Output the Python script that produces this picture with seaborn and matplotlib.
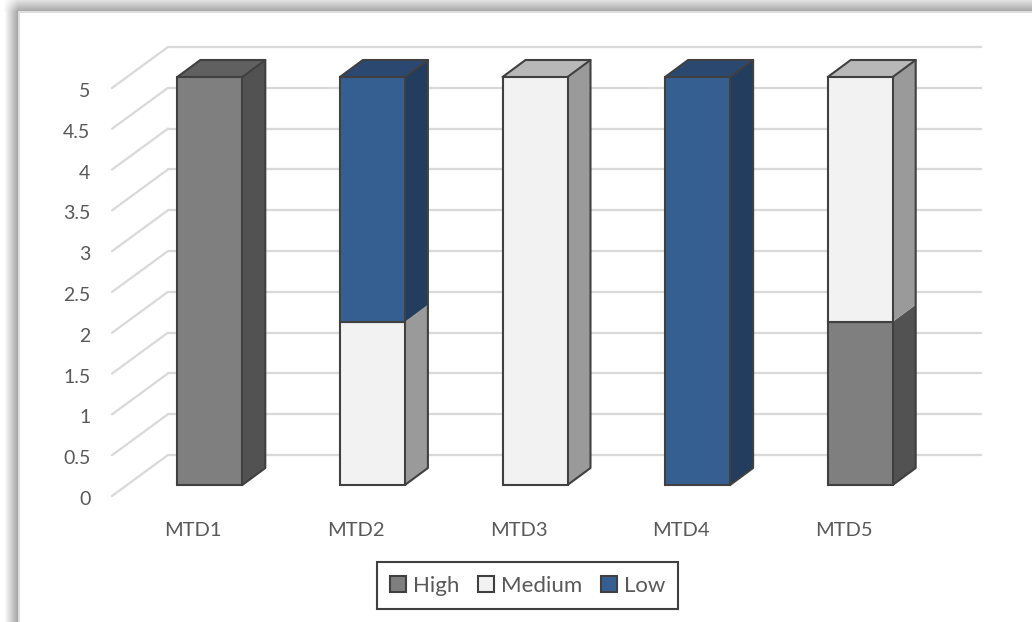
import numpy as np
import pandas as pd
import matplotlib
matplotlib.use("Agg")
import matplotlib.pyplot as plt
from matplotlib.transforms import ScaledTranslation
import seaborn as sns

# -------- DATA --------
methods = ["MTD1", "MTD2", "MTD3", "MTD4", "MTD5"]
high = [5, 0, 0, 0, 2]
medium = [0, 2, 5, 0, 3]
low = [0, 3, 0, 5, 0]
levels = ["High", "Medium", "Low"]
ytick_values = [0, 0.5, 1, 1.5, 2, 2.5, 3, 3.5, 4, 4.5, 5]
ytick_labels = ["0", "0.5", "1", "1.5", "2", "2.5", "3", "3.5", "4", "4.5", "5"]

# -------- STYLE --------
front = {"High": "#7f7f7f", "Medium": "#f2f2f2", "Low": "#365f91"}
side = {"High": "#525252", "Medium": "#9a9a9a", "Low": "#223d5e"}
top = {"High": "#606060", "Medium": "#b8b8b8", "Low": "#2b4970"}
EDGE = "#404040"
GRID = "#d9d9d9"
TEXT = "#595959"

W, H = 1032, 622
sns.set_theme(style="white")
plt.rcParams["font.family"] = ["Lato", "DejaVu Sans"]

fig = plt.figure(figsize=(W / 100, H / 100), dpi=100)

# -------- PANEL SHADOW --------
bg = fig.add_axes([0, 0, 1, 1], zorder=0)
xx, yy = np.meshgrid(np.arange(W), np.arange(H))
left_band = np.where(xx < 4, 255, 255 - 95 * (xx - 4) / 14)
left_band = np.where(yy < 10, 255 - (255 - left_band) * (yy / 10), left_band)
top_band = 225 - 60 * yy / 11
top_band = np.where(xx < 18, 255 - (255 - top_band) * np.clip((xx - 3) / 15, 0, 1), top_band)
shade = np.where(yy < 11, top_band, left_band)
shade = np.where((xx >= 18) & (yy >= 11), 255, shade)
shade = np.where(((xx >= 18) & (xx < 20) & (yy >= 11)) | ((yy >= 11) & (yy < 13) & (xx >= 18)), 222, shade)
bg.imshow(shade, cmap="gray", vmin=0, vmax=255, aspect="auto", interpolation="nearest")
bg.axis("off")

# -------- AXES (front plane of the 3D box) --------
left, right, floor, ceil = 112, 925, 496, 88
ax = fig.add_axes([left / W, 1 - floor / H, (right - left) / W, (floor - ceil) / H], zorder=1)
ax.patch.set_alpha(0)
px_x = (right - left) / 5
px_y = (floor - ceil) / 5

wall_dx, wall_dy = 56 / px_x, 41 / px_y
shift_x, shift_y = 16.5 / px_x, 11 / px_y
depth_x, depth_y = 23 / px_x, 17 / px_y
bar_width = 65 / px_x

# gridlines on the back wall and floor/side wall
for v in ytick_values:
    ax.plot([-0.5, -0.5 + wall_dx], [v, v + wall_dy], color=GRID, lw=1.6, clip_on=False, zorder=1,
            solid_capstyle="round")
    ax.plot([-0.5 + wall_dx, 4.5 + wall_dx], [v + wall_dy, v + wall_dy], color=GRID, lw=1.6,
            clip_on=False, zorder=1, solid_capstyle="round")

# -------- BARS --------
df = pd.DataFrame({"method": methods, "High": high, "Medium": medium, "Low": low})
base = np.zeros(len(methods))
columns = [[] for _ in methods]
for level in levels:
    vals = df[level].to_numpy(dtype=float)
    keep = vals > 0
    sub = df[keep]
    n_before = len(ax.patches)
    sns.barplot(data=sub, x="method", y=level, order=methods, color=front[level], saturation=1,
                width=bar_width, bottom=base[keep], edgecolor=EDGE, linewidth=1.5, ax=ax,
                label=level, zorder=4, err_kws={"linewidth": 0})
    for p in ax.patches[n_before:]:
        p.set_x(p.get_x() + shift_x)
        p.set_y(p.get_y() + shift_y)
        p.set_clip_on(False)
    for i in np.flatnonzero(keep):
        columns[i].append((level, base[i], base[i] + vals[i]))
    base = base + vals

# side and top faces
for i, segs in enumerate(columns):
    x1 = i - bar_width / 2 + shift_x
    x2 = i + bar_width / 2 + shift_x
    for level, y0, y1 in segs:
        ax.fill([x2, x2 + depth_x, x2 + depth_x, x2],
                [y0 + shift_y, y0 + shift_y + depth_y, y1 + shift_y + depth_y, y1 + shift_y],
                color=side[level], lw=0, zorder=3, clip_on=False)
    level, _, y_top = segs[-1]
    yt = y_top + shift_y
    ax.fill([x1, x1 + depth_x, x2 + depth_x, x2], [yt, yt + depth_y, yt + depth_y, yt],
            color=top[level], lw=0, zorder=3, clip_on=False)
    ax.plot([x2, x2 + depth_x, x2 + depth_x, x1 + depth_x, x1],
            [shift_y, shift_y + depth_y, yt + depth_y, yt + depth_y, yt],
            color=EDGE, lw=1.5, zorder=5, clip_on=False, solid_joinstyle="round")
    ax.plot([x2 + depth_x, x2], [yt + depth_y, yt], color=EDGE, lw=1.5, zorder=5, clip_on=False)

# -------- AXIS TEXT --------
ax.set_xlim(-0.5, 4.5)
ax.set_ylim(0, 5)
ax.set_yticks(ytick_values)
ax.set_yticklabels(ytick_labels)
ax.set_xlabel("")
ax.set_ylabel("")
ax.tick_params(axis="y", length=0, pad=15.5, labelsize=14, labelcolor=TEXT)
ax.tick_params(axis="x", length=0, pad=18.5, labelsize=14.5, labelcolor=TEXT)
sns.despine(ax=ax, left=True, bottom=True)

# Lato sits a little high against the reference labels
nudge = ScaledTranslation(0, -2 / 100, fig.dpi_scale_trans)
for lab in ax.get_yticklabels():
    lab.set_transform(lab.get_transform() + nudge)

# -------- LEGEND --------
handles, labels = ax.get_legend_handles_labels()
leg = ax.legend(handles, labels, ncol=3, loc="center", bbox_to_anchor=(527.5 / W, 1 - 585.5 / H),
                bbox_transform=fig.transFigure, frameon=True, fancybox=False, fontsize=16,
                labelcolor=TEXT, handlelength=0.72, handleheight=0.72, handletextpad=0.3,
                columnspacing=0.85, borderpad=0.6, edgecolor=EDGE, framealpha=1)
leg.get_frame().set_linewidth(1.5)

fig.savefig("out.png", dpi=100)
